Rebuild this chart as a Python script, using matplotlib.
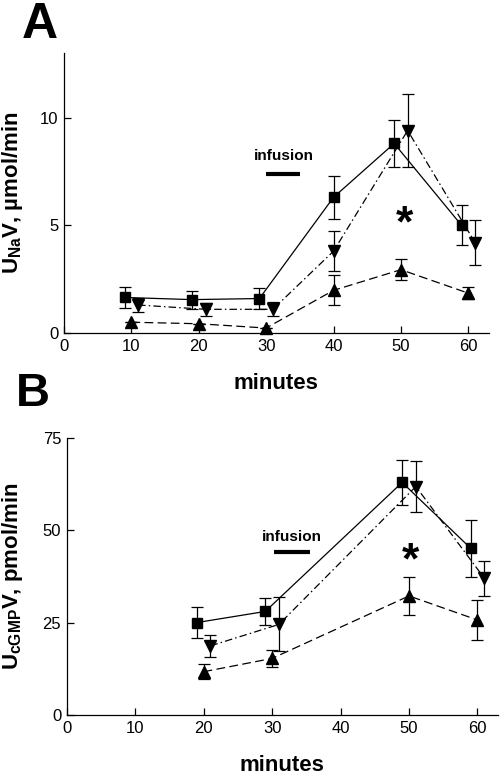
import matplotlib
matplotlib.use("Agg")
import matplotlib.pyplot as plt

plt.rcParams["font.family"] = ["Liberation Sans", "DejaVu Sans"]
plt.rcParams["mathtext.fontset"] = "custom"
plt.rcParams["mathtext.bf"] = "Liberation Sans:bold"
plt.rcParams["mathtext.rm"] = "Liberation Sans"

# Panel A: UNaV, umol/min
a_sq_x = [9, 19, 29, 40, 49, 59]
a_sq_y = [1.65, 1.55, 1.6, 6.3, 8.8, 5.0]
a_sq_e = [0.48, 0.42, 0.47, 1.0, 1.1, 0.92]

a_dn_x = [11, 21, 31, 40, 51, 61]
a_dn_y = [1.3, 1.1, 1.1, 3.8, 9.4, 4.2]
a_dn_e = [0.33, 0.3, 0.33, 0.92, 1.7, 1.05]

a_up_x = [10, 20, 30, 40, 50, 60]
a_up_y = [0.5, 0.43, 0.23, 1.98, 2.94, 1.85]
a_up_e = [0.0, 0.0, 0.0, 0.7, 0.5, 0.27]

# Panel B: UcGMPV, pmol/min
b_sq_x = [19, 29, 49, 59]
b_sq_y = [25.0, 28.0, 62.9, 45.1]
b_sq_e = [4.1, 3.6, 6.0, 7.7]

b_dn_x = [21, 31, 51, 61]
b_dn_y = [18.7, 24.5, 61.8, 37.0]
b_dn_e = [3.0, 7.3, 6.8, 4.7]

b_up_x = [20, 30, 50, 60]
b_up_y = [11.7, 15.3, 32.2, 25.7]
b_up_e = [2.0, 2.3, 5.1, 5.5]

W, H = 504, 776
fig = plt.figure(figsize=(W / 100, H / 100), dpi=100)


def px_axes(left, right, top, bottom):
    return fig.add_axes([left / W, 1 - bottom / H, (right - left) / W, (bottom - top) / H])


def draw_series(ax, x, y, e, marker, ls, ms):
    ax.errorbar(x, y, yerr=e, color="black", marker=marker, markersize=ms,
                linestyle=ls, linewidth=0.9, elinewidth=0.9, capsize=4,
                capthick=0.9, clip_on=False, zorder=3)


def style_axes(ax, ylim, yticks):
    ax.set_xlim(0, 63)
    ax.set_ylim(*ylim)
    ax.set_xticks([0, 10, 20, 30, 40, 50, 60])
    ax.set_yticks(yticks)
    for s in ["top", "right"]:
        ax.spines[s].set_visible(False)
    for s in ["left", "bottom"]:
        ax.spines[s].set_linewidth(0.9)
    ax.tick_params(direction="in", length=5, width=0.9, labelsize=12, pad=4)
    ax.set_xlabel("minutes", fontsize=16, fontweight="bold", labelpad=14)


dashdot = (0, (6, 2.5, 1.2, 2.5))
dashed = (0, (7, 3.5))

# ---- A ----
axA = px_axes(64, 488.5, 53, 333)
draw_series(axA, a_sq_x, a_sq_y, a_sq_e, "s", "-", 7)
draw_series(axA, a_dn_x, a_dn_y, a_dn_e, "v", dashdot, 8)
draw_series(axA, a_up_x, a_up_y, a_up_e, "^", dashed, 8)
style_axes(axA, (0, 13), [0, 5, 10])
axA.set_ylabel(r"U$_\mathbf{Na}$V, µmol/min", fontsize=16, fontweight="bold")
axA.yaxis.set_label_coords(-0.092, 0.5)
axA.text(32.6, 8.2, "infusion", fontsize=11, fontweight="bold", ha="center", va="center")
axA.plot([30, 35], [7.4, 7.4], color="black", linewidth=3, solid_capstyle="butt")
axA.text(50.5, 5.0, "*", fontsize=32, fontweight="bold", ha="center", va="center")

# ---- B ----
axB = px_axes(66.7, 498, 437.7, 715)
draw_series(axB, b_sq_x, b_sq_y, b_sq_e, "s", "-", 7)
draw_series(axB, b_dn_x, b_dn_y, b_dn_e, "v", dashdot, 8)
draw_series(axB, b_up_x, b_up_y, b_up_e, "^", dashed, 8)
style_axes(axB, (0, 75), [0, 25, 50, 75])
axB.set_ylabel(r"U$_\mathbf{cGMP}$V, pmol/min", fontsize=16, fontweight="bold")
axB.yaxis.set_label_coords(-0.097, 0.5)
axB.text(32.9, 48.2, "infusion", fontsize=11, fontweight="bold", ha="center", va="center")
axB.plot([30.3, 35.5], [44.0, 44.0], color="black", linewidth=3, solid_capstyle="butt")
axB.text(50.2, 41.5, "*", fontsize=32, fontweight="bold", ha="center", va="center")

fig.text(40 / W, 1 - 38 / H, "A", fontsize=36, fontweight="bold", ha="center", va="baseline")
fig.text(33 / W, 1 - 406 / H, "B", fontsize=34, fontweight="bold", ha="center", va="baseline")

fig.savefig("out.png", dpi=100)
